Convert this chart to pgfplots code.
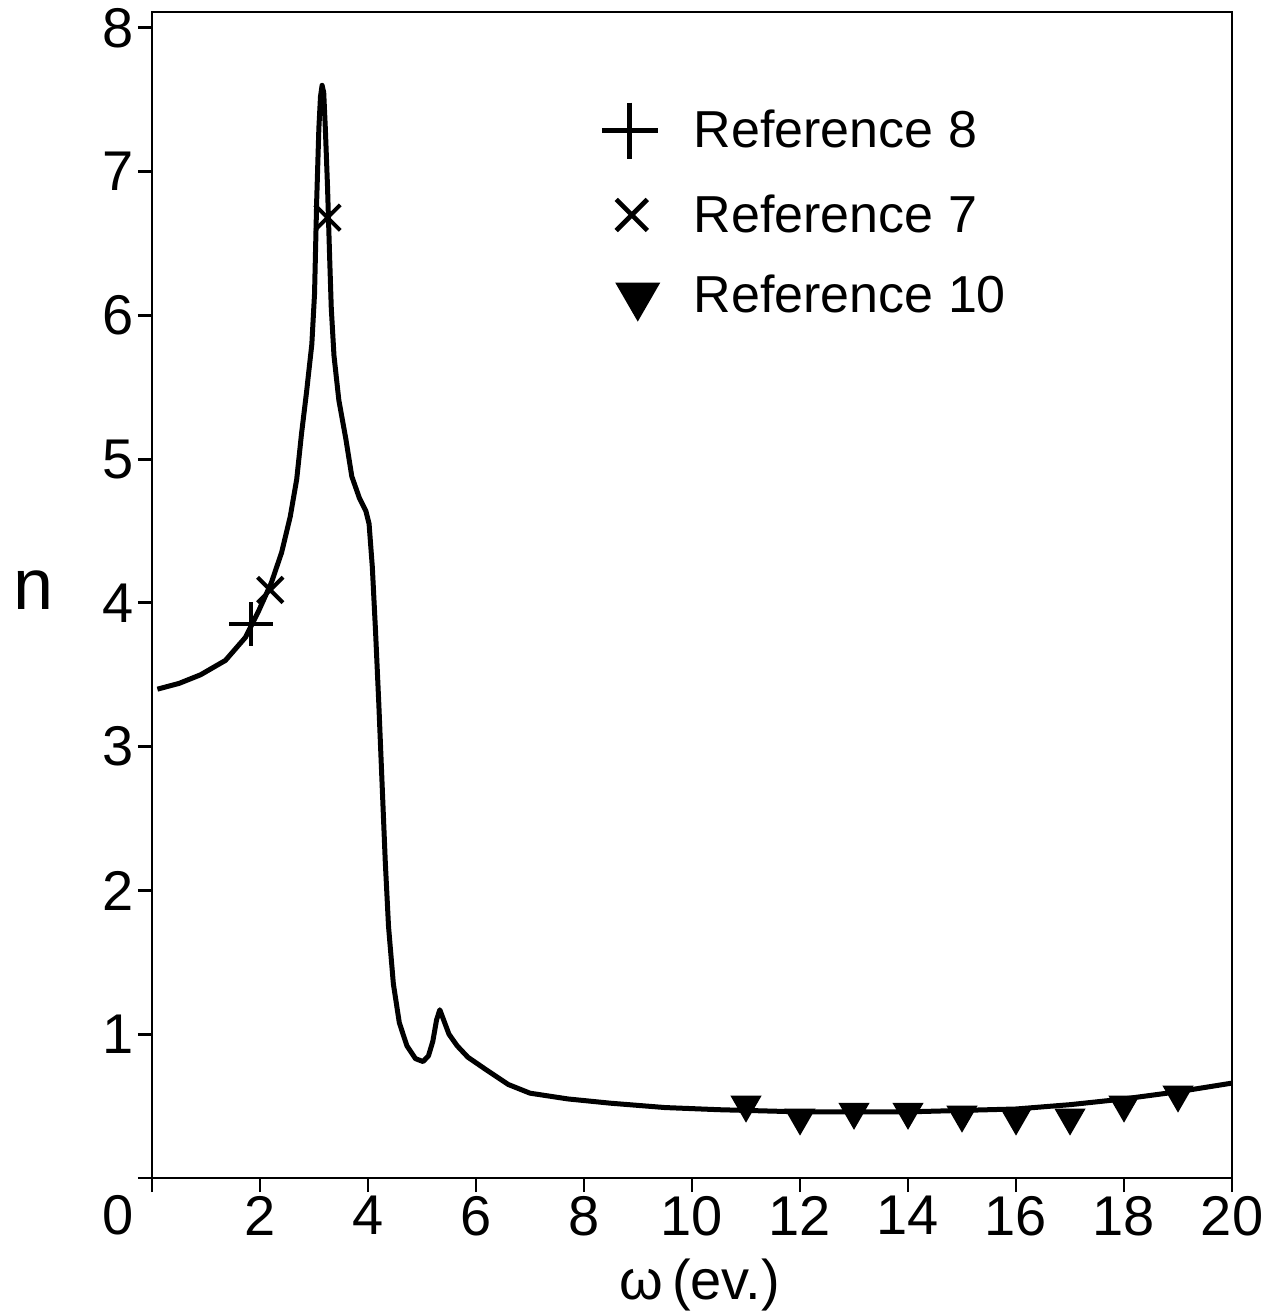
\documentclass[border=0pt]{standalone}
\usepackage{fontspec}
\setmainfont{Liberation Sans}
\usepackage{pgfplots}
\pgfplotsset{compat=1.18}
\begin{document}
\begin{tikzpicture}
\begin{axis}[
  width=540pt, height=583pt, scale only axis,
  xmin=0, xmax=20, ymin=0, ymax=8.11,
  axis line style={line width=1.4pt},
  xtick={0,2,...,20}, xticklabels={{},2,4,6,8,10,12,14,16,18,20},
  ytick={0,1,...,8}, yticklabels={{},1,2,3,4,5,6,7,8},
  xtick pos=bottom, ytick pos=left,
  tick align=outside, major tick length=7pt,
  every tick/.style={line width=1.4pt, black},
  /pgf/number format/assume math mode=true,
  tick label style={font=\fontsize{28}{32}\selectfont, inner sep=2pt},
  xlabel={ω\,(ev.)},
  xlabel style={font=\fontsize{28}{32}\selectfont, at={(axis description cs:0.507,-0.092)}, anchor=center},
  ylabel={n},
  ylabel style={font=\fontsize{36}{40}\selectfont, at={(axis description cs:-0.11,0.504)}, anchor=center, rotate=-90},
  legend style={draw=none, fill=none, at={(0.392,0.926)}, anchor=north west,
    font=\fontsize{26}{30}\selectfont, row sep=16pt},
  legend cell align=left,
]
\addplot[black, line width=2.5pt, line join=round, forget plot] coordinates {
(0.1,3.40) (0.5,3.44) (0.9,3.50) (1.36,3.60) (1.73,3.76) (1.97,3.94)
(2.21,4.14) (2.40,4.35) (2.56,4.60) (2.68,4.86) (2.77,5.18) (2.86,5.46)
(2.96,5.80) (3.01,6.15) (3.05,6.80) (3.09,7.30) (3.12,7.52) (3.15,7.60)
(3.18,7.55) (3.21,7.30) (3.25,6.90) (3.29,6.40) (3.32,6.05) (3.37,5.72)
(3.46,5.41) (3.59,5.14) (3.70,4.88) (3.84,4.73) (3.96,4.64) (4.02,4.55)
(4.08,4.25) (4.14,3.80) (4.20,3.30) (4.26,2.75) (4.32,2.20) (4.38,1.75)
(4.47,1.35) (4.58,1.08) (4.72,0.92) (4.88,0.83) (5.02,0.81) (5.12,0.85)
(5.20,0.95) (5.27,1.10) (5.33,1.17) (5.40,1.10) (5.50,1.00) (5.65,0.92)
(5.85,0.84) (6.20,0.75) (6.60,0.65) (7.00,0.59) (7.70,0.55) (8.50,0.52)
(9.50,0.49) (10.5,0.475) (12,0.46) (14,0.46) (15,0.47) (16,0.48)
(17,0.51) (18,0.55) (19,0.60) (20,0.66)
};
\addplot[black, only marks, mark=+, mark size=11pt, line width=2pt,
  legend image code/.code={\path[draw=none,fill=none] (0pt,-1pt) rectangle (54pt,1pt);\draw[mark size=14pt,line width=2.3pt,mark repeat=2,mark phase=2] plot coordinates {(0pt,0pt) (24pt,0pt) (50pt,0pt)};}]
  coordinates {(1.84,3.85)};
\addlegendentry{Reference 8}
\addplot[black, only marks, mark=x, mark size=9pt, line width=2pt,
  legend image code/.code={\path[draw=none,fill=none] (0pt,-1pt) rectangle (54pt,1pt);\draw[mark size=11pt,line width=2.3pt,mark repeat=2,mark phase=2] plot coordinates {(0pt,0pt) (25pt,0pt) (50pt,0pt)};}]
  coordinates {(2.19,4.09) (3.25,6.68)};
\addlegendentry{Reference 7}
\addplot[black, only marks, mark=triangle*, mark size=8pt, line width=1pt,
  mark options={rotate=180, fill=black},
  legend image code/.code={\path[draw=none,fill=none] (0pt,-1pt) rectangle (54pt,1pt);\draw[mark size=12pt,mark repeat=2,mark phase=2] plot coordinates {(0pt,0pt) (28pt,0pt) (50pt,0pt)};}]
  coordinates {(11,0.51) (12,0.42) (13,0.46) (14,0.46) (15,0.44) (16,0.42) (17,0.42) (18,0.51) (19,0.58)};
\addlegendentry{Reference 10}
\end{axis}
\node[font=\fontsize{28}{32}\selectfont, anchor=center] at ([xshift=-17pt,yshift=-18.5pt]current axis.south west) {0};
\pgfresetboundingbox
\path ([shift={(-76pt,-67pt)}]current axis.south west) rectangle ([shift={(26pt,6pt)}]current axis.north east);
\end{tikzpicture}
\end{document}
